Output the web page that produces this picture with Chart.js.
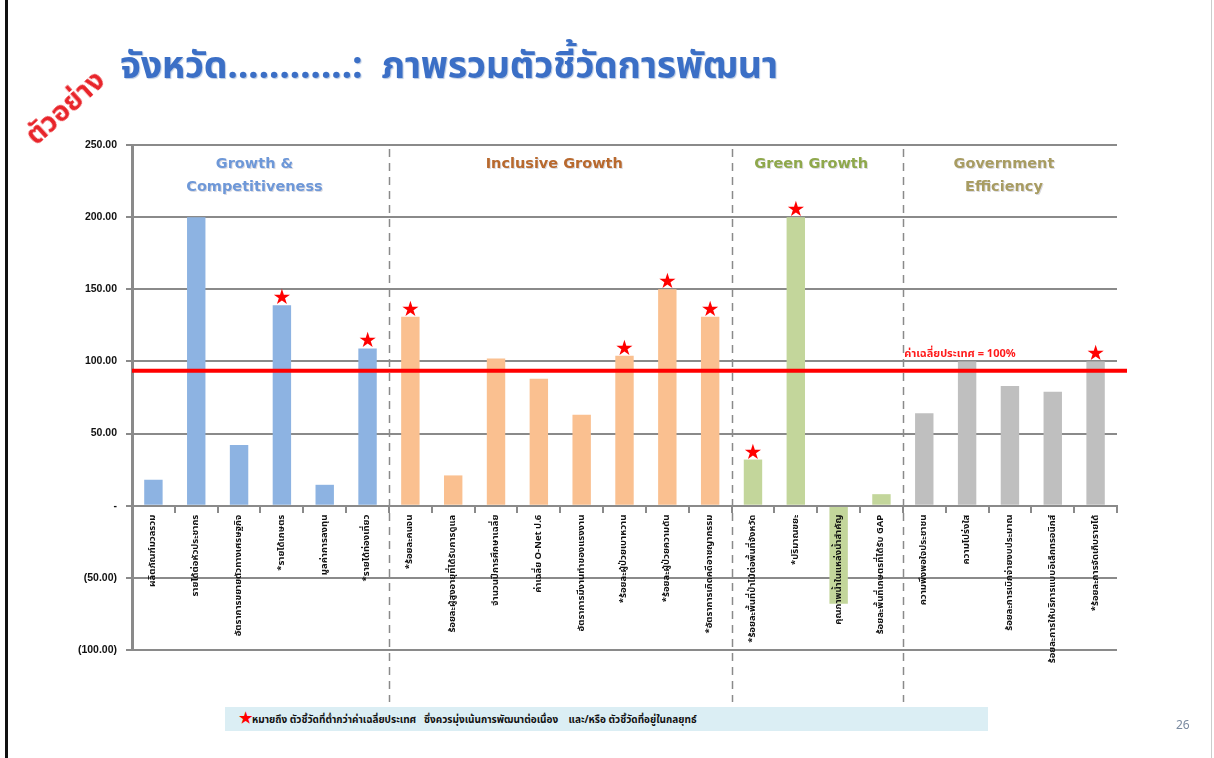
<!DOCTYPE html>
<html>
<head>
<meta charset="utf-8">
<script src="https://cdn.jsdelivr.net/npm/chart.js@4/dist/chart.umd.min.js"></script>
<style>
html,body{margin:0;padding:0;background:#fff;width:1214px;height:758px;overflow:hidden;font-family:Tahoma,"Noto Sans Thai","Noto Sans",sans-serif;}
#wrap{position:absolute;left:0;top:0;width:1214px;height:758px;}
#c{position:absolute;left:0;top:0;}
#frameL{position:absolute;left:5px;top:0;width:3px;height:758px;background:#111;}
#frameR{position:absolute;left:1211px;top:0;width:1px;height:758px;background:#ccc;}
#title{position:absolute;left:120px;top:38px;font-size:37.5px;font-weight:bold;color:#3b6fc6;white-space:nowrap;text-shadow:1px 1px 1px #b8c8e0;letter-spacing:-0.3px;}
#sample{position:absolute;left:16px;top:124px;font-size:28px;font-weight:bold;color:#e8242a;transform:rotate(-42deg);transform-origin:left top;white-space:nowrap;}
#legend{position:absolute;left:225px;top:707px;width:763px;height:24px;background:#dbeef4;font-size:10px;font-weight:bold;color:#111;line-height:24px;white-space:nowrap;}
#legend span{color:#ff0000;font-size:15px;margin-left:14px;}
#page{position:absolute;left:1176px;top:716px;font-size:12px;color:#7a8aa0;}
</style>
</head>
<body>
<div id="wrap">
<canvas id="c" width="1214" height="758"></canvas>
<div id="frameL"></div><div id="frameR"></div>
<div id="sample">ตัวอย่าง</div>
<div id="title">จังหวัด............:&nbsp; ภาพรวมตัวชี้วัดการพัฒนา</div>
<div id="legend"><span>★</span>หมายถึง ตัวชี้วัดที่ต่ำกว่าค่าเฉลี่ยประเทศ&nbsp;&nbsp; ซึ่งควรมุ่งเน้นการพัฒนาต่อเนื่อง&nbsp;&nbsp;&nbsp; และ/หรือ ตัวชี้วัดที่อยู่ในกลยุทธ์</div>
<div id="page">26</div>
</div>
<script>
// ---- data ----
const categories = [
  "ผลิตภัณฑ์มวลรวม",
  "รายได้ต่อหัวประชากร",
  "อัตราการขยายตัวทางเศรษฐกิจ",
  "*รายได้เกษตร",
  "มูลค่าการลงทุน",
  "*รายได้ท่องเที่ยว",
  "*ร้อยละคนจน",
  "ร้อยละผู้สูงอายุที่ได้รับการดูแล",
  "จำนวนปีการศึกษาเฉลี่ย",
  "ค่าเฉลี่ย O-Net ป.6",
  "อัตราการมีงานทำของแรงงาน",
  "*ร้อยละผู้ป่วยเบาหวาน",
  "*ร้อยละผู้ป่วยความดัน",
  "*อัตราการเกิดคดีอาชญากรรม",
  "*ร้อยละพื้นที่ป่าไม้ต่อพื้นที่จังหวัด",
  "*ปริมาณขยะ",
  "คุณภาพน้ำในแหล่งน้ำสำคัญ",
  "ร้อยละพื้นที่เกษตรที่ได้รับ GAP",
  "ความพึงพอใจประชาชน",
  "ความโปร่งใส",
  "ร้อยละการเบิกจ่ายงบประมาณ",
  "ร้อยละการให้บริการแบบอิเล็กทรอนิกส์",
  "*ร้อยละการจัดเก็บรายได้"
];
const values = [18, 200, 42, 139, 14.5, 109, 131, 21, 102, 88, 63, 104, 150, 131, 32, 200, -68, 8, 64, 100, 83, 79, 100];
const starFlags = [0,0,0,1,0,1, 1,0,0,0,0,1,1,1, 1,1,0,0, 0,0,0,0,1];
const groupNames = [["Growth &","Competitiveness"],["Inclusive Growth"],["Green Growth"],["Government","Efficiency"]];
const groupSizes = [6, 8, 4, 5];
const groupBarColors = ["#8db3e2", "#fac090", "#c3d69b", "#bfbfbf"];
const groupTextColors = ["#6e98d8", "#b8692e", "#8fa84c", "#a89c62"];
const avgValue = 93.5;
const avgLabel = "ค่าเฉลี่ยประเทศ = 100%";
const yMin = -100, yMax = 250, yStep = 50;

// per-bar colors from groups
const barColors = [];
groupSizes.forEach((n, g) => { for (let i = 0; i < n; i++) barColors.push(groupBarColors[g]); });

const overlay = {
  id: 'overlay',
  beforeDatasetsDraw(chart) {
    const {ctx, chartArea: ca, scales: {x, y}} = chart;
    ctx.save();
    ctx.strokeStyle = '#8a8a8a';
    ctx.lineWidth = 1.5;
    ctx.setLineDash([8, 6]);
    let idx = 0;
    for (let g = 0; g < groupSizes.length - 1; g++) {
      idx += groupSizes[g];
      const xp = (x.getPixelForValue(idx - 1) + x.getPixelForValue(idx)) / 2;
      ctx.beginPath();
      ctx.moveTo(Math.round(xp) + 0.5, ca.top + 4);
      ctx.lineTo(Math.round(xp) + 0.5, 702);
      ctx.stroke();
    }
    ctx.restore();
  },
  afterDatasetsDraw(chart) {
    const {ctx, chartArea: ca, scales: {x, y}} = chart;
    ctx.save();
    let start = 0;
    ctx.font = 'bold 14.5px "DejaVu Sans", Verdana, sans-serif';
    ctx.textAlign = 'center';
    ctx.textBaseline = 'middle';
    groupSizes.forEach((n, g) => {
      const left = g === 0 ? ca.left : (x.getPixelForValue(start - 1) + x.getPixelForValue(start)) / 2;
      const end = start + n;
      const right = g === groupSizes.length - 1 ? ca.right : (x.getPixelForValue(end - 1) + x.getPixelForValue(end)) / 2;
      const cx = (left + right) / 2 - 6;
      groupNames[g].forEach((line, li) => {
        ctx.fillStyle = 'rgba(150,150,170,0.35)';
        ctx.fillText(line, cx + 1, y.getPixelForValue(yMax) + 19 + li * 23 + 1);
        ctx.fillStyle = groupTextColors[g];
        ctx.fillText(line, cx, y.getPixelForValue(yMax) + 19 + li * 23);
      });
      start = end;
    });
    const ay = y.getPixelForValue(avgValue);
    ctx.strokeStyle = '#ff0000';
    ctx.lineWidth = 4;
    ctx.beginPath();
    ctx.moveTo(ca.left, ay);
    ctx.lineTo(ca.right + 10, ay);
    ctx.stroke();
    ctx.fillStyle = '#ff1a1a';
    ctx.font = 'bold 11px Tahoma, "Noto Sans Thai", sans-serif';
    ctx.textAlign = 'left';
    ctx.textBaseline = 'alphabetic';
    ctx.fillText(avgLabel, x.getPixelForValue(18) - 20, ay - 14);
    ctx.font = '21px "DejaVu Sans", sans-serif';
    ctx.textAlign = 'center';
    ctx.textBaseline = 'alphabetic';
    ctx.fillStyle = '#ff0000';
    values.forEach((v, i) => {
      if (!starFlags[i]) return;
      const px = x.getPixelForValue(i);
      const py = y.getPixelForValue(Math.max(v, 0));
      ctx.fillText('★', px, py - 1);
    });
    ctx.restore();
  }
};

new Chart(document.getElementById('c'), {
  type: 'bar',
  data: {
    labels: categories,
    datasets: [{
      data: values,
      backgroundColor: barColors,
      borderWidth: 0,
      barPercentage: 0.43,
      categoryPercentage: 1.0
    }]
  },
  options: {
    responsive: false,
    animation: false,
    events: [],
    layout: { padding: { left: 40, top: 145, right: 97, bottom: 108 } },
    plugins: { legend: { display: false }, tooltip: { enabled: false } },
    scales: {
      x: {
        position: { y: 0 },
        grid: { display: true, offset: true, drawOnChartArea: false, drawTicks: true, tickLength: 6, color: '#8a8a8a', lineWidth: 2, z: 1 },
        border: { display: true, color: '#8a8a8a', width: 2, z: 1 },
        ticks: {
          z: 1,
          autoSkip: false, minRotation: 90, maxRotation: 90, padding: 3,
          color: '#111',
          font: { family: 'Tahoma, "Noto Sans Thai", sans-serif', size: 9.5, weight: 'bold' }
        }
      },
      y: {
        min: yMin, max: yMax,
        afterFit(scale) { scale.width = 92; },
        grid: { color: '#8a8a8a', lineWidth: 2, tickLength: 6 },
        border: { display: true, color: '#8a8a8a', width: 3 },
        ticks: {
          stepSize: yStep, padding: 9, color: '#111',
          font: { family: '"Liberation Sans", Arial, sans-serif', size: 10.5, weight: 'bold' },
          callback(v) { return v > 0 ? v.toFixed(2) : (v === 0 ? '-' : '(' + Math.abs(v).toFixed(2) + ')'); }
        }
      }
    }
  },
  plugins: [overlay]
});
</script>
</body>
</html>
